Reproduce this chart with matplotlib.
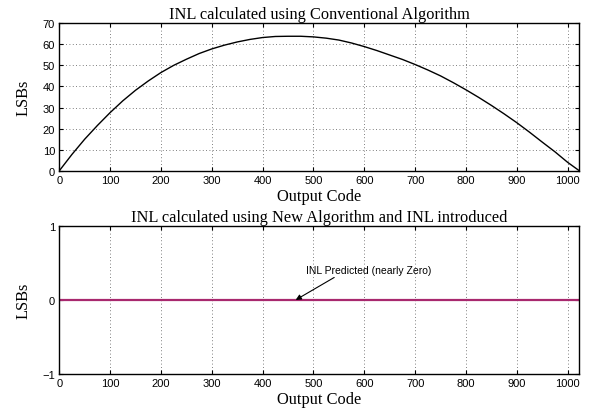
import numpy as np
import matplotlib.pyplot as plt

# Дані
codes = [0, 25, 50, 75, 100, 125, 150, 175, 200, 225, 250, 275, 300, 325,
         350, 375, 400, 425, 450, 475, 500, 525, 550, 575, 600, 625, 650,
         675, 700, 725, 750, 775, 800, 825, 850, 875, 900, 925, 950, 975,
         1000, 1023]
inl_conv = [0, 7.8, 15.0, 21.5, 27.6, 33.2, 38.2, 42.6, 46.6, 50.0, 52.9,
            55.6, 57.8, 59.6, 61.1, 62.3, 63.2, 63.7, 63.8, 63.8, 63.5,
            62.9, 62.0, 60.6, 58.9, 57.0, 54.9, 52.8, 50.4, 47.8, 45.0,
            41.8, 38.4, 34.8, 31.0, 27.0, 22.8, 18.3, 13.6, 9.0, 4.0, 0]
inl_new = [0.0] * len(codes)

xticks = list(range(0, 1001, 100))
serif = 'Liberation Serif'
sans = 'Liberation Sans'
big = 11.8

fig = plt.figure(figsize=(5.93, 4.10), dpi=100)
ax1 = fig.add_axes([0.100, 0.581, 0.877, 0.360])
ax2 = fig.add_axes([0.100, 0.086, 0.877, 0.360])

ax1.plot(codes, inl_conv, color='black', linewidth=1.0)
ax1.set_ylim(0, 70)
ax1.set_yticks(range(0, 71, 10))
ax1.set_title('INL calculated using Conventional Algorithm',
              fontfamily=serif, fontsize=big, pad=4)

ax2.plot(codes, inl_new, color='#a8286e', linewidth=1.6)
ax2.set_ylim(-1, 1)
ax2.set_yticks([-1, 0, 1])
ax2.set_yticklabels(['\u22121', '0', '1'])
ax2.set_title('INL calculated using New Algorithm and INL introduced',
              fontfamily=serif, fontsize=big, pad=4)
ax2.annotate('INL Predicted (nearly Zero)', xy=(465, 0), xytext=(486, 0.41),
             fontfamily=sans, fontsize=7.5, va='center',
             arrowprops=dict(arrowstyle='-|>', color='black', lw=0.8,
                             shrinkA=0, shrinkB=0, mutation_scale=8,
                             relpos=(0.26, 0.0)))

for ax in (ax1, ax2):
    ax.set_xlim(0, 1023)
    ax.set_xticks(xticks)
    ax.grid(True, linestyle=(0, (1, 3)), color='#555555', linewidth=0.6)
    ax.tick_params(direction='in', top=True, right=True, length=3,
                   labelsize=8, pad=3)
    for lab in ax.get_xticklabels() + ax.get_yticklabels():
        lab.set_fontfamily(sans)
    for s in ax.spines.values():
        s.set_linewidth(1.0)
    ax.set_xlabel('Output Code', fontfamily=serif, fontsize=big, labelpad=2)
    ax.set_ylabel('LSBs', fontfamily=serif, fontsize=big, labelpad=8)

fig.savefig('out.png', dpi=100)
